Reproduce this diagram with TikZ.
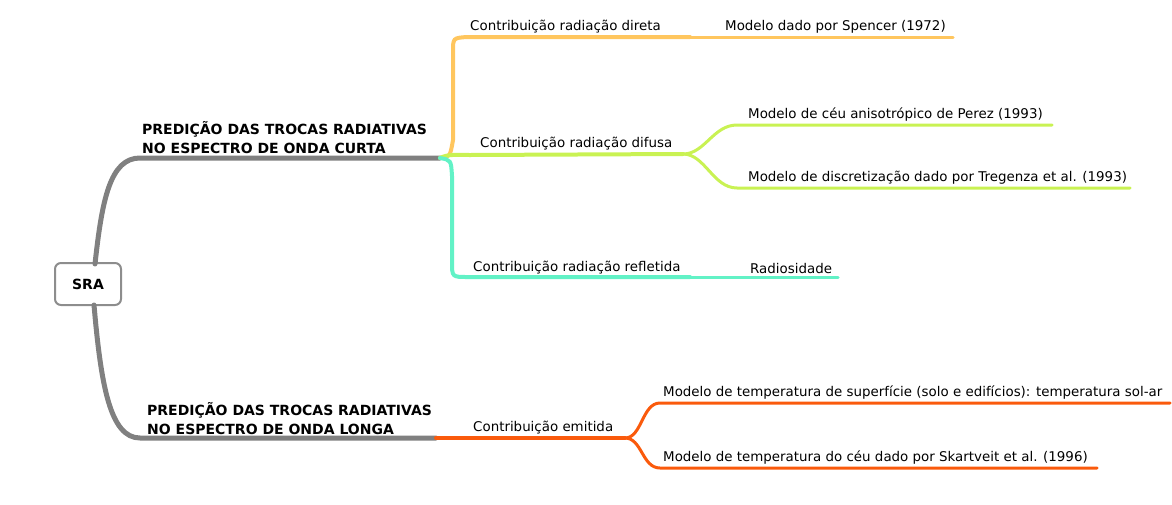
\documentclass[tikz,border=0pt]{standalone}
\usepackage{fontspec}
\setmainfont{DejaVu Sans}
\definecolor{trunkgray}{HTML}{808080}
\definecolor{dirorange}{HTML}{FFC65E}
\definecolor{diflime}{HTML}{C9F253}
\definecolor{refteal}{HTML}{62F2C6}
\definecolor{emired}{HTML}{FA5A0C}
\tikzset{
  trunk/.style={line width=5pt, trunkgray, line cap=round},
  branch/.style={line width=4pt, line cap=round},
  twig/.style={line width=3pt, line cap=round},
  leaf/.style={anchor=west, inner sep=0pt, font=\fontsize{13.4}{15}\selectfont},
  head/.style={anchor=west, inner sep=0pt, align=left, font=\fontsize{14}{19}\selectfont\bfseries},
}
\begin{document}
\begin{tikzpicture}[x=1pt,y=-1pt]
   \useasboundingbox (0,0) rectangle (1172,504);

   % root and titles
   \node[draw=trunkgray!90, line width=2pt, rounded corners=6pt, fill=white,
         minimum width=66pt, minimum height=42pt, inner sep=0pt,
         font=\fontsize{14}{16}\selectfont\bfseries] (sra) at (88,284) {SRA};
   \node[head] (curta) at (142,137.5) {PREDIÇÃO DAS TROCAS RADIATIVAS\\NO ESPECTRO DE ONDA CURTA};
   \node[head] (longa) at (147,419) {PREDIÇÃO DAS TROCAS RADIATIVAS\\NO ESPECTRO DE ONDA LONGA};

   % branch labels
   \node[leaf] (direta)   at (470,27)  {Contribuição radiação direta};
   \node[leaf] (difusa)   at (480,144) {Contribuição radiação difusa};
   \node[leaf] (refletida) at (473,268) {Contribuição radiação refletida};
   \node[leaf] (emitida)  at (473,428) {Contribuição emitida};

   % leaf labels
   \node[leaf] (spencer) at (725,27)  {Modelo dado por Spencer (1972)};
   \node[leaf] (perez)   at (748,115) {Modelo de céu anisotrópico de Perez (1993)};
   \node[leaf] (tregenza) at (748,178) {Modelo de discretização dado por Tregenza et al. (1993)};
   \node[leaf] (radio)   at (750,268) {Radiosidade};
   \node[leaf] (solar)   at (663,393) {Modelo de temperatura de superfície (solo e edifícios): temperatura sol-ar};
   \node[leaf] (skart)   at (663,458) {Modelo de temperatura do céu dado por Skartveit et al. (1996)};

   % junctions
   \coordinate (jcurta) at (440,158);
   \coordinate (jlonga) at (436,438);
   \coordinate (jdif) at (683,154);
   \coordinate (jemi) at (625,438);

   % trunk
   \draw[trunk] (95,264) .. controls (102,200) and (110,158) .. (140,158) -- (jcurta);
   \draw[trunk] (94,305) .. controls (101,385) and (110,438) .. (140,438) -- (jlonga);

   % direct
   \draw[branch, dirorange] (jcurta) .. controls (450,157) .. (453,140) -- (453,52)
        .. controls (453,38) .. (467,37) -- (690,37);
   \draw[twig, dirorange] (690,37) -- (953,37);

   % diffuse
   \draw[branch, diflime] (jcurta) .. controls (448,154) and (455,155) .. (470,155) -- (jdif);
   \draw[twig, diflime] (jdif) .. controls (705,154) and (713,125) .. (737,125) -- (1052,125);
   \draw[twig, diflime] (jdif) .. controls (705,154) and (713,188) .. (737,188) -- (1130,188);

   % reflected
   \draw[branch, refteal] (jcurta) .. controls (451,160) .. (452,176) -- (452,262)
        .. controls (452,277) .. (468,277) -- (690,277);
   \draw[twig, refteal] (690,277) -- (838,277);

   % emitted
   \draw[branch, emired] (jlonga) -- (jemi);
   \draw[twig, emired] (jemi) .. controls (642,438) and (642,403) .. (660,403) -- (1170,403);
   \draw[twig, emired] (jemi) .. controls (642,438) and (642,468) .. (660,468) -- (1097,468);

\end{tikzpicture}
\end{document}
